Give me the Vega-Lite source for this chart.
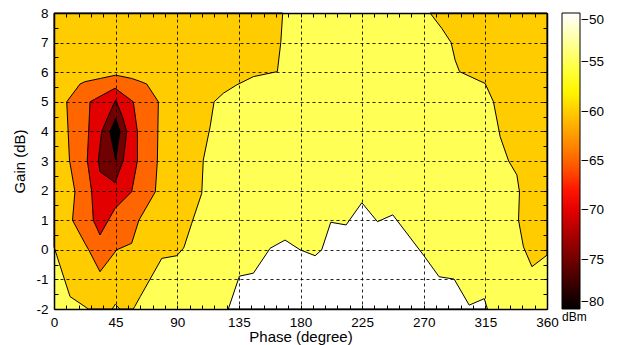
{
  "$schema": "https://vega.github.io/schema/vega-lite/v6.json",
  "width": 493,
  "height": 296,
  "autosize": {"type": "none"},
  "padding": {"left": 54, "top": 13, "right": 71, "bottom": 36},
  "config": {
    "font": "Liberation Sans",
    "view": {"stroke": null},
    "axis": {
      "domainColor": "black",
      "domainWidth": 1.5,
      "tickColor": "black",
      "tickWidth": 1,
      "tickSize": -4,
      "labelColor": "black",
      "labelFontSize": 13.5,
      "titleColor": "black",
      "titleFontSize": 15,
      "titleFontWeight": "normal",
      "gridColor": "black",
      "gridDash": [3, 3],
      "gridWidth": 1
    }
  },
  "datasets": {
    "bg": [{"phase": 0, "phase2": 360, "gain": -2, "gain2": 8, "level": -55}],
    "leftOrange": [
      {"gain": -2, "phase": 25.0, "phase2": 57.9, "level": -60},
      {"gain": -1.92, "phase": 22.6, "phase2": 58.9, "level": -60},
      {"gain": -1.58, "phase": 11.7, "phase2": 63.0, "level": -60},
      {"gain": -0.29, "phase": 2.7, "phase2": 78.7, "level": -60},
      {"gain": -0.2, "phase": 2.1, "phase2": 89.6, "level": -60},
      {"gain": 0.05, "phase": 0.35, "phase2": 94.5, "level": -60},
      {"gain": 0.1, "phase": 0, "phase2": 95.0, "level": -60},
      {"gain": 0.9, "phase": 0, "phase2": 100.6, "level": -60},
      {"gain": 1.91, "phase": 0, "phase2": 107.9, "level": -60},
      {"gain": 3.03, "phase": 0, "phase2": 109, "level": -60},
      {"gain": 4.16, "phase": 0, "phase2": 114, "level": -60},
      {"gain": 5.0, "phase": 0, "phase2": 116.9, "level": -60},
      {"gain": 5.29, "phase": 0, "phase2": 123.7, "level": -60},
      {"gain": 5.57, "phase": 0, "phase2": 133.4, "level": -60},
      {"gain": 5.85, "phase": 0, "phase2": 145.6, "level": -60},
      {"gain": 6.02, "phase": 0, "phase2": 163.1, "level": -60},
      {"gain": 7.0, "phase": 0, "phase2": 165.6, "level": -60},
      {"gain": 8, "phase": 0, "phase2": 167, "level": -60}
    ],
    "wedge": [
      {"phase": 42.5, "gain": -2, "gain2": -2, "level": -55},
      {"phase": 44.8, "gain": -1.84, "gain2": -2, "level": -55},
      {"phase": 48, "gain": -2, "gain2": -2, "level": -55}
    ],
    "rightOrange": [
      {"gain": -0.57, "phase": 349, "phase2": 349, "level": -60},
      {"gain": -0.18, "phase": 345.4, "phase2": 360, "level": -60},
      {"gain": 0.1, "phase": 342.8, "phase2": 360, "level": -60},
      {"gain": 1.0, "phase": 339.2, "phase2": 360, "level": -60},
      {"gain": 1.96, "phase": 339.9, "phase2": 360, "level": -60},
      {"gain": 2.53, "phase": 338, "phase2": 360, "level": -60},
      {"gain": 3.0, "phase": 332, "phase2": 360, "level": -60},
      {"gain": 3.82, "phase": 325.8, "phase2": 360, "level": -60},
      {"gain": 5.0, "phase": 320.9, "phase2": 360, "level": -60},
      {"gain": 5.62, "phase": 314.8, "phase2": 360, "level": -60},
      {"gain": 6.02, "phase": 296.1, "phase2": 360, "level": -60},
      {"gain": 6.41, "phase": 292.9, "phase2": 360, "level": -60},
      {"gain": 7.0, "phase": 290, "phase2": 360, "level": -60},
      {"gain": 7.48, "phase": 283.2, "phase2": 360, "level": -60},
      {"gain": 8, "phase": 274.6, "phase2": 360, "level": -60}
    ],
    "white": [
      {"phase": 127.3, "gain": -2, "gain2": -2, "level": -50},
      {"phase": 135.4, "gain": -0.89, "gain2": -2, "level": -50},
      {"phase": 145.6, "gain": -0.79, "gain2": -2, "level": -50},
      {"phase": 157.8, "gain": 0.05, "gain2": -2, "level": -50},
      {"phase": 168.7, "gain": 0.33, "gain2": -2, "level": -50},
      {"phase": 179.7, "gain": 0.0, "gain2": -2, "level": -50},
      {"phase": 190.7, "gain": -0.2, "gain2": -2, "level": -50},
      {"phase": 195.5, "gain": 0.0, "gain2": -2, "level": -50},
      {"phase": 202.1, "gain": 0.93, "gain2": -2, "level": -50},
      {"phase": 213.3, "gain": 0.84, "gain2": -2, "level": -50},
      {"phase": 224.8, "gain": 1.59, "gain2": -2, "level": -50},
      {"phase": 236.2, "gain": 0.95, "gain2": -2, "level": -50},
      {"phase": 247.4, "gain": 1.18, "gain2": -2, "level": -50},
      {"phase": 269.8, "gain": -0.18, "gain2": -2, "level": -50},
      {"phase": 281.2, "gain": -0.91, "gain2": -2, "level": -50},
      {"phase": 292.2, "gain": -0.99, "gain2": -2, "level": -50},
      {"phase": 303.2, "gain": -1.87, "gain2": -2, "level": -50},
      {"phase": 314.2, "gain": -1.65, "gain2": -2, "level": -50},
      {"phase": 316.5, "gain": -2, "gain2": -2, "level": -50}
    ],
    "c65": [
      {"gain": -0.74, "phase": 33.6, "phase2": 33.6, "level": -65},
      {"gain": 0.0, "phase": 25.3, "phase2": 45.8, "level": -65},
      {"gain": 0.22, "phase": 22.6, "phase2": 56.7, "level": -65},
      {"gain": 1.0, "phase": 13.5, "phase2": 62.0, "level": -65},
      {"gain": 1.96, "phase": 15.3, "phase2": 74.0, "level": -65},
      {"gain": 3.03, "phase": 11.3, "phase2": 75.5, "level": -65},
      {"gain": 5.0, "phase": 9.3, "phase2": 76.2, "level": -65},
      {"gain": 5.6, "phase": 19.0, "phase2": 67.7, "level": -65},
      {"gain": 5.68, "phase": 22.6, "phase2": 63.5, "level": -65},
      {"gain": 5.79, "phase": 34.0, "phase2": 56.7, "level": -65},
      {"gain": 5.9, "phase": 45.0, "phase2": 45.0, "level": -65}
    ],
    "c70": [
      {"gain": 0.5, "phase": 33.6, "phase2": 33.6, "level": -70},
      {"gain": 1.0, "phase": 28.7, "phase2": 39.7, "level": -70},
      {"gain": 1.4, "phase": 28.2, "phase2": 44.6, "level": -70},
      {"gain": 1.96, "phase": 27.5, "phase2": 56.7, "level": -70},
      {"gain": 3.03, "phase": 24.3, "phase2": 61.0, "level": -70},
      {"gain": 3.99, "phase": 25.3, "phase2": 60.9, "level": -70},
      {"gain": 5.0, "phase": 26.3, "phase2": 57.9, "level": -70},
      {"gain": 5.46, "phase": 44.6, "phase2": 44.6, "level": -70}
    ],
    "c75": [
      {"gain": 2.27, "phase": 44.6, "phase2": 44.6, "level": -75},
      {"gain": 2.64, "phase": 33.6, "phase2": 47.5, "level": -75},
      {"gain": 3.03, "phase": 32.4, "phase2": 50.6, "level": -75},
      {"gain": 3.99, "phase": 34.8, "phase2": 53.1, "level": -75},
      {"gain": 4.5, "phase": 39.5, "phase2": 50.0, "level": -75},
      {"gain": 5.06, "phase": 45.0, "phase2": 45.0, "level": -75}
    ],
    "c80": [
      {"gain": 3.03, "phase": 45, "phase2": 45, "level": -80},
      {"gain": 3.99, "phase": 40.9, "phase2": 48.2, "level": -80},
      {"gain": 4.44, "phase": 45, "phase2": 45, "level": -80}
    ]
  },
  "layer": [
    {
      "data": {"name": "bg"},
      "mark": {"type": "rect"},
      "encoding": {
        "x": {"field": "phase", "type": "quantitative", "scale": {"domain": [0, 360], "nice": false, "zero": false},
          "axis": {"orient": "bottom", "title": "Phase (degree)", "zindex": 1,
            "values": [0,9,18,27,36,45,54,63,72,81,90,99,108,117,126,135,144,153,162,171,180,189,198,207,216,225,234,243,252,261,270,279,288,297,306,315,324,333,342,351,360],
            "labelExpr": "datum.value % 45 === 0 ? '' + datum.value : ''",
            "grid": true,
            "gridOpacity": {"condition": {"test": "datum.value % 45 === 0 && datum.value > 0 && datum.value < 360", "value": 0.85}, "value": 0},
            "labelPadding": 10, "titlePadding": 1, "labelOverlap": false, "labelFlush": false}},
        "x2": {"field": "phase2"},
        "y": {"field": "gain", "type": "quantitative", "scale": {"domain": [-2, 8], "nice": false, "zero": false},
          "axis": {"orient": "left", "title": "Gain (dB)", "zindex": 1,
            "values": [-2,-1.5,-1,-0.5,0,0.5,1,1.5,2,2.5,3,3.5,4,4.5,5,5.5,6,6.5,7,7.5,8],
            "labelExpr": "datum.value % 1 === 0 ? '' + datum.value : ''",
            "grid": true,
            "gridOpacity": {"condition": {"test": "datum.value % 1 === 0 && datum.value > -2 && datum.value < 8", "value": 0.85}, "value": 0},
            "labelPadding": 10, "titlePadding": 8, "labelOverlap": false, "labelFlush": false}},
        "y2": {"field": "gain2"},
        "fill": {"field": "level", "type": "quantitative",
          "scale": {"domain": [-80, -68.75, -65, -57.5, -50], "range": ["#000000", "#ff0000", "#ff6600", "#ffff00", "#ffffff"], "interpolate": "rgb"},
          "legend": {"title": "dBm", "type": "gradient", "direction": "vertical", "orient": "right", "offset": 13, "padding": 0,
            "gradientLength": 296, "gradientThickness": 18, "gradientStrokeColor": "black", "gradientStrokeWidth": 1,
            "values": [-80, -75, -70, -65, -60, -55, -50], "labelFontSize": 13.5, "labelColor": "black", "labelBaseline": "middle",
            "labelOffset": 1, "labelOverlap": false, "titleOrient": "bottom", "titleFontSize": 12, "titleFontWeight": "normal", "titleColor": "black", "titlePadding": 2}}
      }
    },
    {
      "data": {"name": "leftOrange"},
      "mark": {"type": "area", "orient": "horizontal", "stroke": "black", "strokeWidth": 1},
      "encoding": {
        "y": {"field": "gain", "type": "quantitative", "axis": null},
        "x": {"field": "phase", "type": "quantitative", "axis": null},
        "x2": {"field": "phase2"},
        "fill": {"field": "level", "type": "quantitative"}
      }
    },
    {
      "data": {"name": "wedge"},
      "mark": {"type": "area", "orient": "vertical", "stroke": "black", "strokeWidth": 1},
      "encoding": {
        "x": {"field": "phase", "type": "quantitative", "axis": null},
        "y": {"field": "gain", "type": "quantitative", "axis": null},
        "y2": {"field": "gain2"},
        "fill": {"field": "level", "type": "quantitative"}
      }
    },
    {
      "data": {"name": "rightOrange"},
      "mark": {"type": "area", "orient": "horizontal", "stroke": "black", "strokeWidth": 1},
      "encoding": {
        "y": {"field": "gain", "type": "quantitative", "axis": null},
        "x": {"field": "phase", "type": "quantitative", "axis": null},
        "x2": {"field": "phase2"},
        "fill": {"field": "level", "type": "quantitative"}
      }
    },
    {
      "data": {"name": "white"},
      "mark": {"type": "area", "orient": "vertical", "stroke": "black", "strokeWidth": 1},
      "encoding": {
        "x": {"field": "phase", "type": "quantitative",
          "axis": {"orient": "top", "title": null, "labels": false, "grid": false, "zindex": 1,
            "values": [0,9,18,27,36,45,54,63,72,81,90,99,108,117,126,135,144,153,162,171,180,189,198,207,216,225,234,243,252,261,270,279,288,297,306,315,324,333,342,351,360]}},
        "y": {"field": "gain", "type": "quantitative",
          "axis": {"orient": "right", "title": null, "labels": false, "grid": false, "zindex": 1,
            "values": [-2,-1.5,-1,-0.5,0,0.5,1,1.5,2,2.5,3,3.5,4,4.5,5,5.5,6,6.5,7,7.5,8]}},
        "y2": {"field": "gain2"},
        "fill": {"field": "level", "type": "quantitative"}
      }
    },
    {
      "data": {"name": "c65"},
      "mark": {"type": "area", "orient": "horizontal", "stroke": "black", "strokeWidth": 1},
      "encoding": {
        "y": {"field": "gain", "type": "quantitative", "axis": null},
        "x": {"field": "phase", "type": "quantitative", "axis": null},
        "x2": {"field": "phase2"},
        "fill": {"field": "level", "type": "quantitative"}
      }
    },
    {
      "data": {"name": "c70"},
      "mark": {"type": "area", "orient": "horizontal", "stroke": "black", "strokeWidth": 1},
      "encoding": {
        "y": {"field": "gain", "type": "quantitative", "axis": null},
        "x": {"field": "phase", "type": "quantitative", "axis": null},
        "x2": {"field": "phase2"},
        "fill": {"field": "level", "type": "quantitative"}
      }
    },
    {
      "data": {"name": "c75"},
      "mark": {"type": "area", "orient": "horizontal", "stroke": "black", "strokeWidth": 1},
      "encoding": {
        "y": {"field": "gain", "type": "quantitative", "axis": null},
        "x": {"field": "phase", "type": "quantitative", "axis": null},
        "x2": {"field": "phase2"},
        "fill": {"field": "level", "type": "quantitative"}
      }
    },
    {
      "data": {"name": "c80"},
      "mark": {"type": "area", "orient": "horizontal", "stroke": "black", "strokeWidth": 1},
      "encoding": {
        "y": {"field": "gain", "type": "quantitative", "axis": null},
        "x": {"field": "phase", "type": "quantitative", "axis": null},
        "x2": {"field": "phase2"},
        "fill": {"field": "level", "type": "quantitative"}
      }
    }
  ],
  "resolve": {"axis": {"x": "independent", "y": "independent"}}
}
